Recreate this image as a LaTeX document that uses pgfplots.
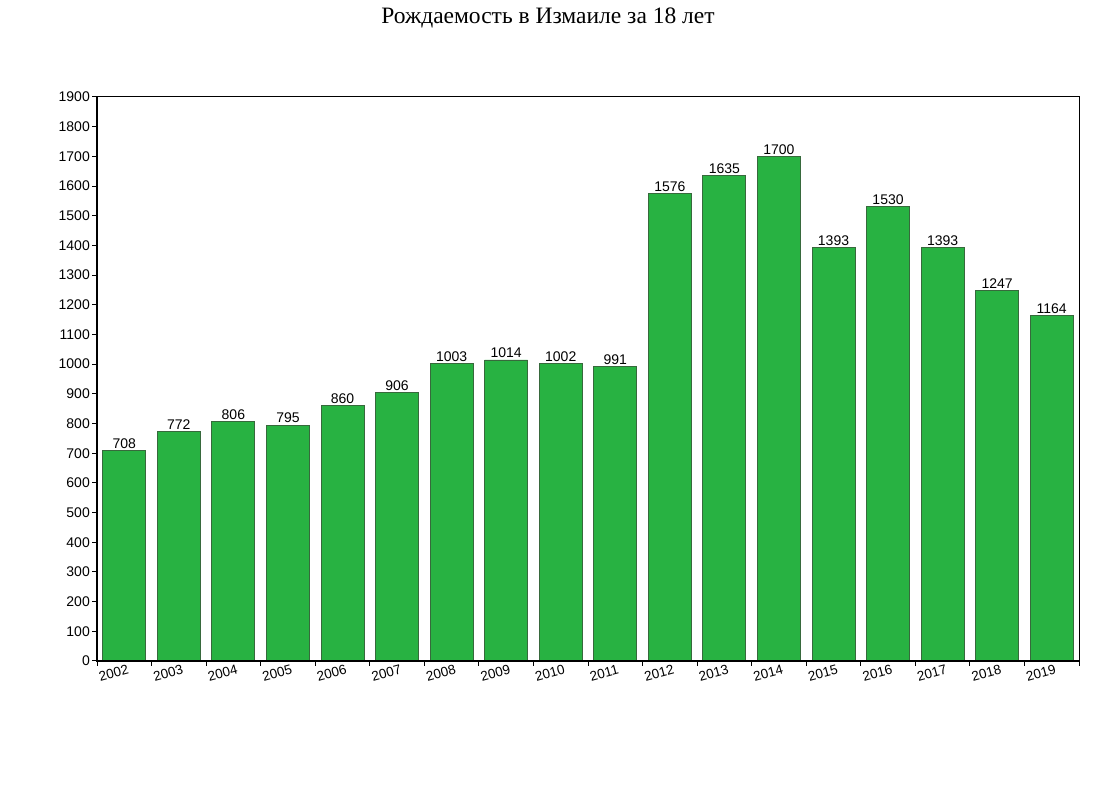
\documentclass[border=0pt]{standalone}
\usepackage{pgfplots}
\pgfplotsset{compat=1.18}
\usepackage{fontspec}
\setmainfont{Liberation Serif}
\newfontfamily\lsans{Liberation Sans}
\definecolor{barg}{RGB}{40,178,66}
\definecolor{bare}{RGB}{55,105,60}
\begin{document}
\begin{tikzpicture}
\useasboundingbox (0,0) rectangle (1095bp,805bp);
\node[font=\fontsize{23.5bp}{26bp}\selectfont] at (548bp,787bp) {Рождаемость в Измаиле за 18 лет};
\begin{axis}[
  at={(97bp,144bp)}, anchor=south west,
  scale only axis, width=982bp, height=564bp,
  xmin=0, xmax=18, ymin=0, ymax=1900,
  xtick={0,...,18},
  xticklabels={2002,2003,2004,2005,2006,2007,2008,2009,2010,2011,2012,2013,2014,2015,2016,2017,2018,2019,{}},
  ytick={0,100,...,1900},
  xtick pos=bottom, ytick pos=left,
  tick align=outside, major tick length=5bp,
  tick style={black, line width=1bp},
  axis line style={black, line width=1bp},
  clip=false,
  /pgf/number format/1000 sep={},
  /pgf/number format/assume math mode=true,
  yticklabel style={font=\lsans\fontsize{14bp}{16bp}\selectfont, inner sep=2bp},
  xticklabel style={font=\lsans\fontsize{13.5bp}{15bp}\selectfont, rotate=15, anchor=north west, inner sep=1bp, yshift=-5bp, xshift=-2bp},
  nodes near coords,
  every node near coord/.append style={font=\lsans\fontsize{14bp}{16bp}\selectfont, black, inner sep=1.5bp},
]
\addplot[ybar, bar width=43bp, fill=barg, draw=bare, line width=0.8bp] coordinates {
(0.5,708) (1.5,772) (2.5,806) (3.5,795) (4.5,860) (5.5,906) (6.5,1003) (7.5,1014) (8.5,1002)
(9.5,991) (10.5,1576) (11.5,1635) (12.5,1700) (13.5,1393) (14.5,1530) (15.5,1393) (16.5,1247) (17.5,1164)};
\draw[black, line width=2.6bp] (rel axis cs:0,1) -- (rel axis cs:0,0) -- (rel axis cs:1,0);
\end{axis}
\end{tikzpicture}
\end{document}
